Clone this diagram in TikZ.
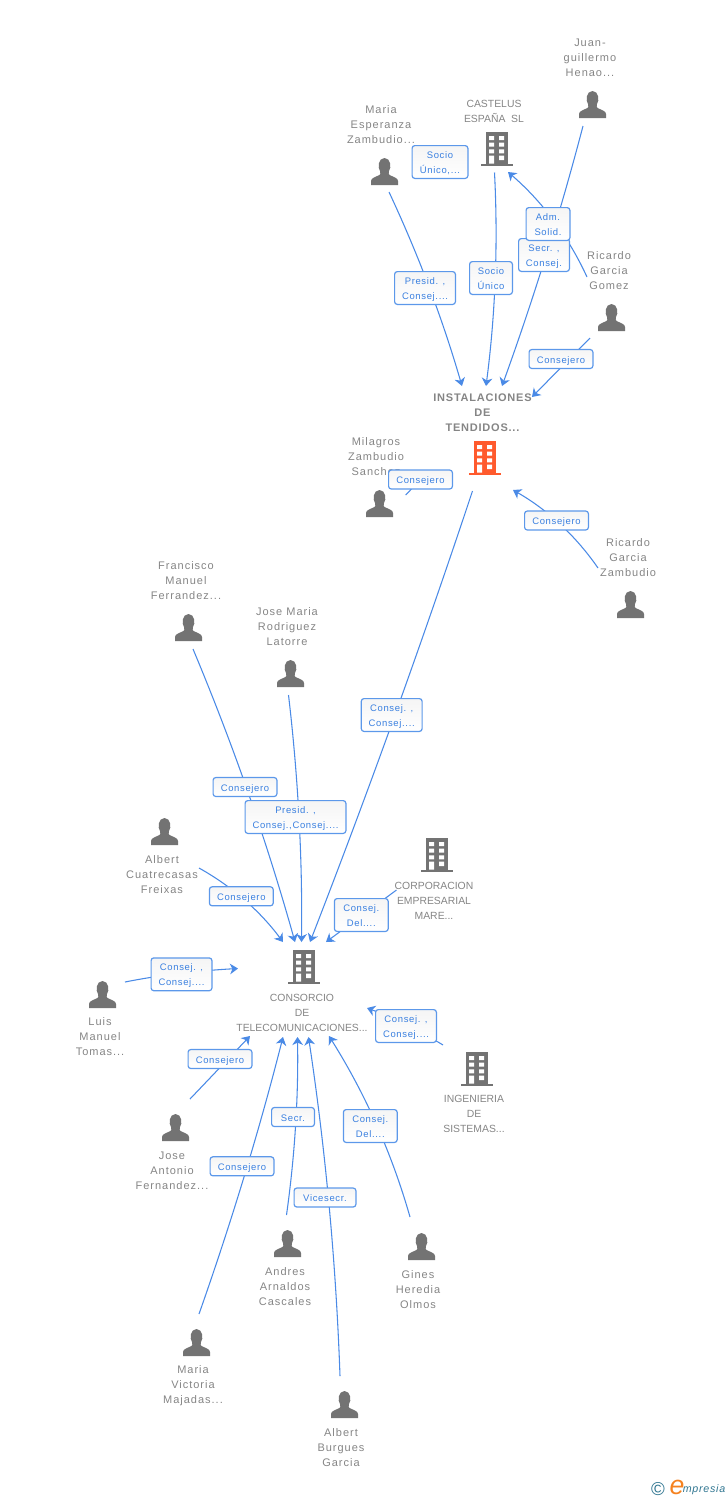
\documentclass[tikz,border=0pt]{standalone}
\usepackage{fontspec}
\setmainfont{Liberation Sans}
\newfontfamily\spacedfont[LetterSpace=9]{Liberation Sans}
\newfontfamily\lblfont[LetterSpace=7]{Liberation Sans}
\usetikzlibrary{arrows.meta,calc}
\definecolor{iconc}{HTML}{737373}
\definecolor{namec}{HTML}{858585}
\definecolor{linkc}{HTML}{4A8AE6}
\definecolor{boxc}{HTML}{5C98EA}
\definecolor{lblc}{HTML}{3A80E0}
\definecolor{hotc}{HTML}{FF5A2D}
\definecolor{logoc}{HTML}{2F7590}
\definecolor{logoo}{HTML}{F58220}
\newcommand{\lbtwo}[2]{\rule{0pt}{7.5pt}#1\\#2\rule[-1.5pt]{0pt}{1.5pt}}
\newcommand{\lbone}[1]{\rule[-1.5pt]{0pt}{9pt}#1}
\newcommand{\qlink}[3]{\draw[link] (#1) .. controls ($(#1)!0.667!(#2)$) and ($(#3)!0.667!(#2)$) .. (#3);}
\tikzset{
  x=0.75pt,y=-0.75pt,
  link/.style={draw=linkc,line width=0.8pt,-{Stealth[length=6pt,width=8pt,inset=1.8pt]}},
  plainlink/.style={draw=linkc,line width=0.8pt},
  pername/.style={text=namec,align=center,inner sep=0pt,yshift=-0.75pt,font=\spacedfont\fontsize{8.25}{11.25}\selectfont},
  orgname/.style={text=namec,align=center,inner sep=0pt,yshift=-0.75pt,font=\fontsize{7.8}{11.25}\selectfont},
  hotname/.style={text=namec,align=center,inner sep=0pt,yshift=-0.5pt,font=\lblfont\bfseries\fontsize{8.25}{11.25}\selectfont},
  lbl/.style={draw=boxc,line width=0.9pt,rounded corners=2pt,top color=black!4,bottom color=white,
    text=lblc,align=center,inner sep=0pt,font=\lblfont\fontsize{7.1}{11.25}\selectfont,
    minimum width=#1*0.75pt-0.9pt},
  tall/.style={minimum height=24.6pt},
  flat/.style={minimum height=14.2pt},
  pics/person/.style={code={
    \fill[iconc] (-13.5,0) -- (-13.5,-4) .. controls (-13.5,-7) and (-9,-8) .. (-5,-10)
      .. controls (-4,-11) and (-4,-12) .. (-4.5,-14)
      .. controls (-7,-17) and (-6.5,-27) .. (0,-27)
      .. controls (6.5,-27) and (7,-17) .. (4.5,-14)
      .. controls (4,-12) and (4,-11) .. (5,-10)
      .. controls (9,-8) and (13.5,-7) .. (13.5,-4) -- (13.5,0) -- cycle;
  }},
  pics/building/.style={code={
    \fill[#1] (-11,-34) rectangle (11,-2.5);
    \fill[#1] (-16,-2.5) rectangle (16,0);
    \fill[white] (-8,-30) rectangle (-3,-26) (2,-30) rectangle (7,-26)
      (-8,-23.3) rectangle (-3,-19.3) (2,-23.3) rectangle (7,-19.3)
      (-8,-16.7) rectangle (-3,-12.7) (2,-16.7) rectangle (7,-12.7)
      (-8,-10.3) rectangle (-3,-2.5) (2,-10.3) rectangle (7,-6);
  }},
}
\begin{document}
\begin{tikzpicture}
\useasboundingbox (0,0) rectangle (728,1500);
% icons
\pic (juan) at (592.5,118) {person};
\pic (mesp) at (384.5,185) {person};
\pic (rgom) at (611.5,331) {person};
\pic (mila) at (379.5,517) {person};
\pic (rzam) at (630.5,618) {person};
\pic (fran) at (188.5,641) {person};
\pic (jmar) at (290.5,687) {person};
\pic (acua) at (164.5,845) {person};
\pic (luis) at (102.5,1008) {person};
\pic (jant) at (175.5,1141) {person};
\pic (andr) at (287.5,1257) {person};
\pic (gine) at (421.5,1260) {person};
\pic (mvic) at (196.5,1356) {person};
\pic (abur) at (344.5,1418) {person};
\pic (cast) at (497,166) {building=iconc};
\pic (inst) at (485,475) {building=hotc};
\pic (corp) at (437,872) {building=iconc};
\pic (cons) at (304,984) {building=iconc};
\pic (inge) at (477,1086) {building=iconc};
% names
\node[pername] (njuan) at (590,57) {Juan-\\guillermo\\Henao...};
\node[pername] (nmesp) at (381,124) {Maria\\Esperanza\\Zambudio...};
\node[orgname] (ncast) at (494,110.5) {CASTELUS\\ESPAÑA\ \ SL};
\node[pername] (nrgom) at (609,270) {Ricardo\\Garcia\\Gomez};
\node[hotname] (ninst) at (482.5,412) {INSTALACIONES\\DE\\TENDIDOS...};
\node[pername] (nmila) at (376,456) {Milagros\\Zambudio\\Sanchez};
\node[pername] (nrzam) at (628,557) {Ricardo\\Garcia\\Zambudio};
\node[pername] (nfran) at (186,580) {Francisco\\Manuel\\Ferrandez...};
\node[pername] (njmar) at (287,626) {Jose Maria\\Rodriguez\\Latorre};
\node[pername] (nacua) at (162,874) {Albert\\Cuatrecasas\\Freixas};
\node[orgname] (ncorp) at (434,900) {CORPORACION\\EMPRESARIAL\\MARE...};
\node[pername] (nluis) at (100,1036) {Luis\\Manuel\\Tomas...};
\node[orgname] (ncons) at (302,1012) {CONSORCIO\\DE\\TELECOMUNICACIONES...};
\node[orgname] (ninge) at (474,1113) {INGENIERIA\\DE\\SISTEMAS...};
\node[pername] (njant) at (172,1170) {Jose\\Antonio\\Fernandez...};
\node[pername] (nandr) at (285,1286) {Andres\\Arnaldos\\Cascales};
\node[pername] (ngine) at (418,1288.5) {Gines\\Heredia\\Olmos};
\node[pername] (nmvic) at (193,1385) {Maria\\Victoria\\Majadas...};
\node[pername] (nabur) at (341,1447) {Albert\\Burgues\\Garcia};
% connector ends
\coordinate (ajuan) at (583,126);   \coordinate (binstr) at (502,386);
\coordinate (argom) at (587,277);   \coordinate (bcast) at (508,172);
\coordinate (amesp) at (389,192);   \coordinate (binstl) at (462,386);
\coordinate (acast) at (494.5,172.5); \coordinate (binstm) at (486,386);
\coordinate (argom2) at (590,338);  \coordinate (binstt) at (532,397);
\coordinate (amila) at (405.7,495); \coordinate (bmila) at (420.5,479.5);
\coordinate (arzam) at (598,568);   \coordinate (binstb) at (513,490);
\coordinate (ainst) at (472.5,491); \coordinate (bconsd) at (310,942);
\coordinate (afran) at (193,649);   \coordinate (bconsa) at (295,942);
\coordinate (ajmar) at (288.5,695); \coordinate (bconsb) at (301.5,942);
\coordinate (aacua) at (199,868);   \coordinate (bconse) at (283,942);
\coordinate (acorp) at (396.5,890); \coordinate (bconsf) at (326,942);
\coordinate (aluis) at (125,982);   \coordinate (bconsg) at (238,968.5);
\coordinate (ajant) at (190,1099);  \coordinate (bconsh) at (250,1036);
\coordinate (amvic) at (199,1314);  \coordinate (bconsi) at (283,1037);
\coordinate (aandr) at (286.5,1215); \coordinate (bconsj) at (297.5,1037);
\coordinate (aabur) at (340,1376);  \coordinate (bconsk) at (308.5,1037);
\coordinate (agine) at (410,1217);  \coordinate (bconsl) at (329,1036);
\coordinate (ainge) at (443,1045);  \coordinate (bconsm) at (367,1008);
% connectors, beneath the labels
\qlink{ajuan}{549,256}{binstr}
\qlink{argom}{559,216}{bcast}
\qlink{amesp}{433,286}{binstl}
\qlink{acast}{500,279}{binstm}
\draw[link] (argom2) -- (binstt);
\draw[plainlink] (amila) -- (bmila);
\qlink{arzam}{564.5,519.5}{binstb}
\qlink{ainst}{397,718}{bconsd}
\qlink{afran}{253,792}{bconsa}
\qlink{ajmar}{303,818}{bconsb}
\qlink{aacua}{249,896}{bconse}
\draw[link] (acorp) -- (bconsf);
\qlink{aluis}{175,972}{bconsg}
\draw[link] (ajant) -- (bconsh);
\qlink{amvic}{248,1175}{bconsi}
\qlink{aandr}{299,1126}{bconsj}
\qlink{aabur}{334,1206}{bconsk}
\qlink{agine}{383,1122}{bconsl}
\qlink{ainge}{405,1022}{bconsm}
% labels
\node[lbl=57,tall] (lsocio) at (440,162) {\lbtwo{Socio}{Único,...}};
\node[lbl=52,tall] (lsecr) at (544,255) {\lbtwo{Secr. ,}{Consej.}};
\node[lbl=45,tall] (ladm) at (548,224) {\lbtwo{Adm.}{Solid.}};
\node[lbl=62,tall] (lpres) at (425,288) {\lbtwo{Presid. ,}{Consej....}};
\node[lbl=44,tall] (lsoc2) at (491,278) {\lbtwo{Socio}{Único}};
\node[lbl=65,flat] (lcg) at (561,359) {\lbone{Consejero}};
\node[lbl=65,flat] (lcm) at (420.5,479.5) {\lbone{Consejero}};
\node[lbl=65,flat] (lcz) at (556.5,520.5) {\lbone{Consejero}};
\node[lbl=62,tall] (lci) at (391.7,715) {\lbtwo{Consej. ,}{Consej....}};
\node[lbl=65,flat] (lcf) at (245,787) {\lbone{Consejero}};
\node[lbl=102,tall] (lpc) at (295.5,817) {\lbtwo{Presid. ,}{Consej.,Consej....}};
\node[lbl=65,flat] (lca) at (241.3,896.3) {\lbone{Consejero}};
\node[lbl=55,tall] (lcd) at (361.3,915) {\lbtwo{Consej.}{Del....}};
\node[lbl=62,tall] (lcl) at (181.5,974.3) {\lbtwo{Consej. ,}{Consej....}};
\node[lbl=62,tall] (lcn) at (406,1026) {\lbtwo{Consej. ,}{Consej....}};
\node[lbl=65,flat] (lcj) at (220,1059) {\lbone{Consejero}};
\node[lbl=44,flat] (lse) at (293,1117) {\lbone{Secr.}};
\node[lbl=65,flat] (lcv) at (242,1166.3) {\lbone{Consejero}};
\node[lbl=63,flat] (lvi) at (325,1197.5) {\lbone{Vicesecr.}};
\node[lbl=55,tall] (lcg2) at (370.3,1126) {\lbtwo{Consej.}{Del....}};
% logo
\node[text=logoc,inner sep=0pt,font=\fontsize{14}{14}\selectfont] (lc) at (658,1489) {©};
\node[text=logoo,inner sep=0pt,font=\itshape\fontsize{20}{20}\selectfont] (le) at (677,1487) {e};
\node[text=logoc,inner sep=0pt,font=\lblfont\itshape\fontsize{8}{10}\selectfont] (lm) at (704,1489.5) {mpresia};
\end{tikzpicture}
\end{document}
